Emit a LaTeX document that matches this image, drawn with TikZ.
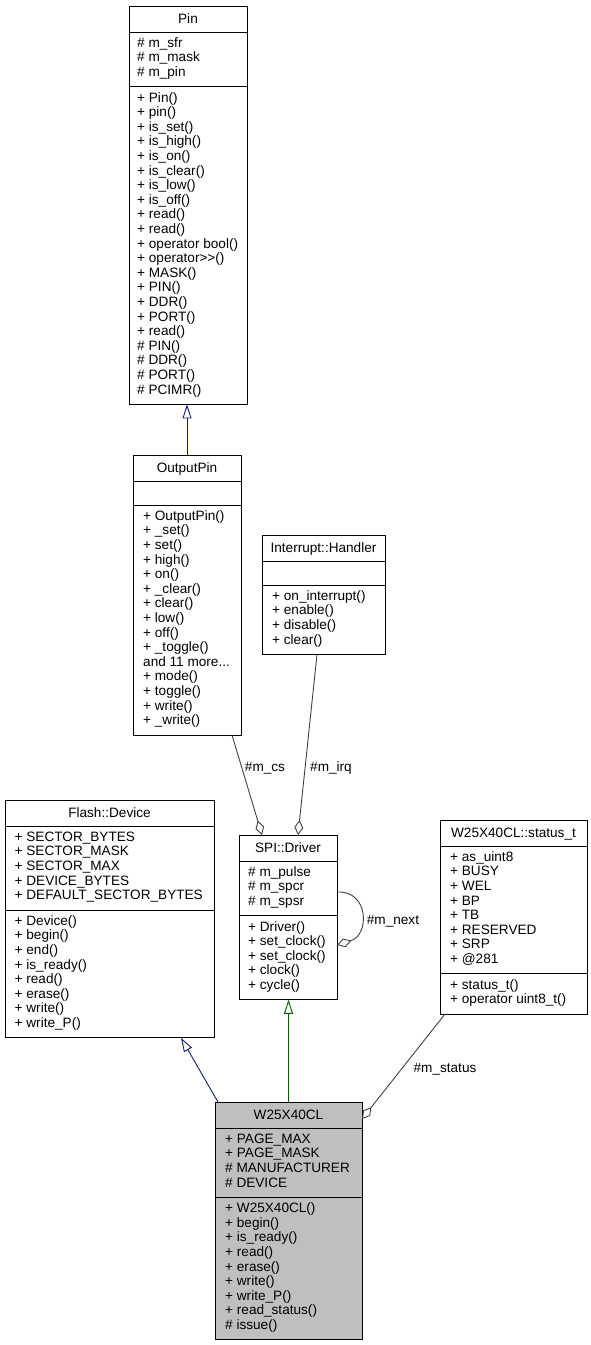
\documentclass[tikz,border=0pt]{standalone}
\usepackage{fontspec}
\setmainfont{Liberation Sans}
\usetikzlibrary{arrows.meta,fit}
\definecolor{navyblue}{HTML}{191970}
\definecolor{dgreen}{HTML}{006400}
\definecolor{edgegray}{HTML}{404040}
\definecolor{hlgray}{HTML}{BFBFBF}
\newcommand\fl{\rule{0pt}{15pt}}
\newcommand\classframe[8]{%
  \node[classbox, fill=#8, fit={(#2,#4)(#3,#7)}] (#1) {};
  \draw[sepline] (#2,#5) -- (#3,#5);
  \draw[sepline] (#2,#6) -- (#3,#6);
}
\tikzset{
  classbox/.style={draw=black, line width=1pt, inner sep=0pt, outer sep=0pt},
  sepline/.style={draw=black, line width=1pt},
  txt/.style={font=\fontsize{13.6pt}{14.6pt}\selectfont, inner sep=0pt, text=black},
  ctitle/.style={txt, anchor=base},
  members/.style={txt, anchor=north west, align=left},
  elabel/.style={txt, anchor=base},
  inh/.style={line width=0.9pt, -{Triangle[length=14pt, width=9pt, fill=white]}},
  agg/.style={draw=edgegray, line width=0.9pt, -{Diamond[length=15pt, width=9pt, fill=white]}},
}
\begin{document}
\begin{tikzpicture}[x=1pt, y=-1pt]
\useasboundingbox (0,0) rectangle (590,1345);

% ---------- Pin ----------
\classframe{pin}{129}{247}{6}{32}{86.8}{404.4}{white}
\node[ctitle] (pin-t) at (188,23.8) {Pin};
\node[members] (pin-a) at (137,32) {\fl\# m\_sfr\\\# m\_mask\\\# m\_pin};
\node[members] (pin-m) at (137,86.8) {\fl+ Pin()\\+ pin()\\+ is\_set()\\+ is\_high()\\+ is\_on()\\+ is\_clear()\\+ is\_low()\\+ is\_off()\\+ read()\\+ read()\\+ operator bool()\\+ operator>{}>()\\+ MASK()\\+ PIN()\\+ DDR()\\+ PORT()\\+ read()\\\# PIN()\\\# DDR()\\\# PORT()\\\# PCIMR()};

% ---------- OutputPin ----------
\classframe{op}{133}{241}{455}{481}{505}{735}{white}
\node[ctitle] (op-t) at (187,472.8) {OutputPin};
\node[members] (op-m) at (143,505) {\fl+ OutputPin()\\+ \_set()\\+ set()\\+ high()\\+ on()\\+ \_clear()\\+ clear()\\+ low()\\+ off()\\+ \_toggle()\\and 11 more...\\+ mode()\\+ toggle()\\+ write()\\+ \_write()};

% ---------- Interrupt::Handler ----------
\classframe{ih}{262}{385}{535}{561}{585}{654.4}{white}
\node[ctitle] (ih-t) at (323.5,552.8) {Interrupt::Handler};
\node[members] (ih-m) at (272,585) {\fl+ on\_interrupt()\\+ enable()\\+ disable()\\+ clear()};

% ---------- Flash::Device ----------
\classframe{fd}{5}{214}{800}{826}{910}{1037.8}{white}
\node[ctitle] (fd-t) at (109.5,817.8) {Flash::Device};
\node[members] (fd-a) at (14.5,826) {\fl+ SECTOR\_BYTES\\+ SECTOR\_MASK\\+ SECTOR\_MAX\\+ DEVICE\_BYTES\\+ DEFAULT\_SECTOR\_BYTES};
\node[members] (fd-m) at (14.5,910) {\fl+ Device()\\+ begin()\\+ end()\\+ is\_ready()\\+ read()\\+ erase()\\+ write()\\+ write\_P()};

% ---------- SPI::Driver ----------
\classframe{spi}{239}{337}{835}{861}{915.8}{999.8}{white}
\node[ctitle] (spi-t) at (288,852.8) {SPI::Driver};
\node[members] (spi-a) at (248,861) {\fl\# m\_pulse\\\# m\_spcr\\\# m\_spsr};
\node[members] (spi-m) at (248,915.8) {\fl+ Driver()\\+ set\_clock()\\+ set\_clock()\\+ clock()\\+ cycle()};

% ---------- W25X40CL::status_t ----------
\classframe{st}{440}{587}{820}{846}{973.8}{1014}{white}
\node[ctitle] (st-t) at (513.5,837.8) {W25X40CL::status\_t};
\node[members] (st-a) at (450,846) {\fl+ as\_uint8\\+ BUSY\\+ WEL\\+ BP\\+ TB\\+ RESERVED\\+ SRP\\+ @281};
\node[members] (st-m) at (450,973.8) {\fl+ status\_t()\\+ operator uint8\_t()};

% ---------- W25X40CL ----------
\classframe{w25}{215}{362}{1102}{1128}{1197.4}{1339.8}{hlgray}
\node[ctitle] (w25-t) at (288.5,1119.8) {W25X40CL};
\node[members] (w25-a) at (225,1128) {\fl+ PAGE\_MAX\\+ PAGE\_MASK\\\# MANUFACTURER\\\# DEVICE};
\node[members] (w25-m) at (225,1197.4) {\fl+ W25X40CL()\\+ begin()\\+ is\_ready()\\+ read()\\+ erase()\\+ write()\\+ write\_P()\\+ read\_status()\\\# issue()};

% ---------- connectors ----------
\draw[inh, draw=navyblue] (op.north) -- (op.north |- pin.south);
\draw[agg] ([xshift=45pt]op.south) -- ([xshift=-26pt]spi.north);
\draw[agg] ([xshift=-6.5pt]ih.south) -- ([xshift=10pt]spi.north);
\draw[agg] ([yshift=25.4pt]spi.east) .. controls +(32,-2) and +(33,-10) .. ([yshift=-27.6pt]spi.east);
\draw[inh, draw=navyblue] ([xshift=3pt]w25.north west) -- ([xshift=71.5pt]fd.south);
\draw[inh, draw=dgreen] (w25.north) -- (w25.north |- spi.south);
\draw[agg] ([xshift=5pt]st.south west) -- ([yshift=-17pt]w25.north east);

% ---------- edge labels ----------
\node[elabel] (l-cs) at (265,771.5) {\#m\_cs};
\node[elabel] (l-irq) at (331,771.5) {\#m\_irq};
\node[elabel] (l-next) at (393,924.5) {\#m\_next};
\node[elabel] (l-status) at (445,1072.5) {\#m\_status};
\end{tikzpicture}
\end{document}
